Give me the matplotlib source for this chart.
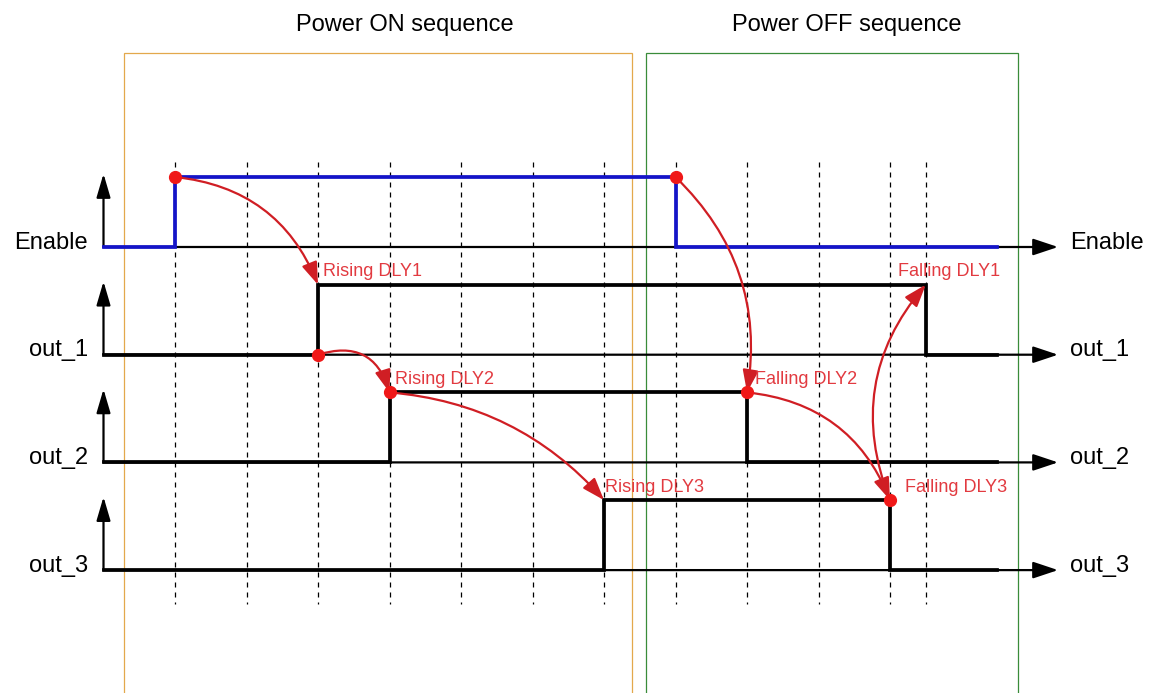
import matplotlib
matplotlib.use('Agg')
from matplotlib import pyplot as plt
from matplotlib.patches import FancyArrowPatch, Rectangle

plt.rcParams['font.family'] = ['Liberation Sans', 'DejaVu Sans']

# signals (time in grid steps, level 0/1)
lanes = ['Enable', 'out_1', 'out_2', 'out_3']
enable_t = [0, 1, 8, 12.5]
enable_v = [0, 1, 0, 0]
out1_t = [0, 3, 11.5, 12.5]
out1_v = [0, 1, 0, 0]
out2_t = [0, 4, 9, 12.5]
out2_v = [0, 1, 0, 0]
out3_t = [0, 7, 11, 12.5]
out3_v = [0, 1, 0, 0]
grid_t = [1, 2, 3, 4, 5, 6, 7, 8, 9, 10, 11, 11.5]

# delay arrows: (label, lane from, t from, level from, lane to, t to, level to)
delays = [
    ('Rising DLY1', 0, 1, 1, 1, 3, 1),
    ('Rising DLY2', 1, 3, 0, 2, 4, 1),
    ('Rising DLY3', 2, 4, 1, 3, 7, 1),
    ('Falling DLY2', 0, 8, 1, 2, 9, 1),
    ('Falling DLY3', 2, 9, 1, 3, 11, 1),
    ('Falling DLY1', 3, 11, 1, 1, 11.5, 1),
]
sections = ['Power ON sequence', 'Power OFF sequence']

# layout
amp = 0.65
lane_gap = 1.0
rads = [-0.3, -0.5, -0.2, -0.26, -0.3, -0.3]
label_dx = [0.07, 0.08, 0.01, 0.11, 0.21, -0.39]
label_dy = 0.12
red_txt = '#E23A40'
red_arrow = '#D01E24'
blue = '#1414C8'


def lane_y(k, level=0):
    return -k * lane_gap + amp * level


fig = plt.figure(figsize=(11.55, 6.93), dpi=100)
ax = fig.add_axes([0, 0, 1, 1])
ax.set_xlim(-103.5 / 71.5, (1155 - 103.5) / 71.5)
ax.set_ylim(-(693 - 247) / 107.7, 247 / 107.7)
ax.axis('off')

# section boxes
ax.add_patch(Rectangle((0.287, -5), 7.39 - 0.287, 5 + 1.801, fill=False,
                       edgecolor='#E3A84C', lw=0.9, zorder=1))
ax.add_patch(Rectangle((7.587, -5), 12.79 - 7.587, 5 + 1.801, fill=False,
                       edgecolor='#3A8C3A', lw=0.9, zorder=1))
ax.text(4.22, 2.06, sections[0], ha='center', va='center', fontsize=17)
ax.text(10.4, 2.06, sections[1], ha='center', va='center', fontsize=17)

# dashed time grid
for t in grid_t:
    ax.plot([t, t], [0.79, -3.315], color='k', lw=0.9, ls=(0, (4, 4)), zorder=2)

# axes of each lane
for k, name in enumerate(lanes):
    base = lane_y(k)
    ax.annotate('', xy=(13.35, base), xytext=(0, base),
                arrowprops=dict(arrowstyle='-|>,head_length=0.9,head_width=0.3',
                                mutation_scale=17, lw=1.6, color='k',
                                shrinkA=0, shrinkB=0), zorder=3)
    ax.annotate('', xy=(0, base + 0.68), xytext=(0, base),
                arrowprops=dict(arrowstyle='-|>,head_length=0.85,head_width=0.25',
                                mutation_scale=17, lw=1.6, color='k',
                                shrinkA=0, shrinkB=0), zorder=3)
    ax.text(-0.217, base + 0.04, name, ha='right', va='center', fontsize=17)
    ax.text(13.52, base + 0.04, name, ha='left', va='center', fontsize=17)

# waveforms
signals = [(enable_t, enable_v, blue), (out1_t, out1_v, 'k'),
           (out2_t, out2_v, 'k'), (out3_t, out3_v, 'k')]
for k, (ts, vs, c) in enumerate(signals):
    ax.step(ts, [lane_y(k, v) for v in vs], where='post', color=c, lw=2.7,
            solid_joinstyle='miter', zorder=4)

# delay arrows
for i, (label, k0, t0, v0, k1, t1, v1) in enumerate(delays):
    p0 = (t0, lane_y(k0, v0))
    p1 = (t1, lane_y(k1, v1))
    arr = FancyArrowPatch(p0, p1, connectionstyle='arc3,rad=%s' % rads[i],
                          arrowstyle='-|>,head_length=0.85,head_width=0.3',
                          mutation_scale=16, lw=1.6, color=red_arrow,
                          shrinkA=0, shrinkB=0, zorder=6)
    ax.add_patch(arr)
    ax.plot(*p0, 'o', color='#F01818', ms=8.5, zorder=7)
    ax.text(t1 + label_dx[i], p1[1] + label_dy, label, color=red_txt,
            fontsize=13, ha='left', va='center', zorder=8)

fig.savefig('out.png', dpi=100)
